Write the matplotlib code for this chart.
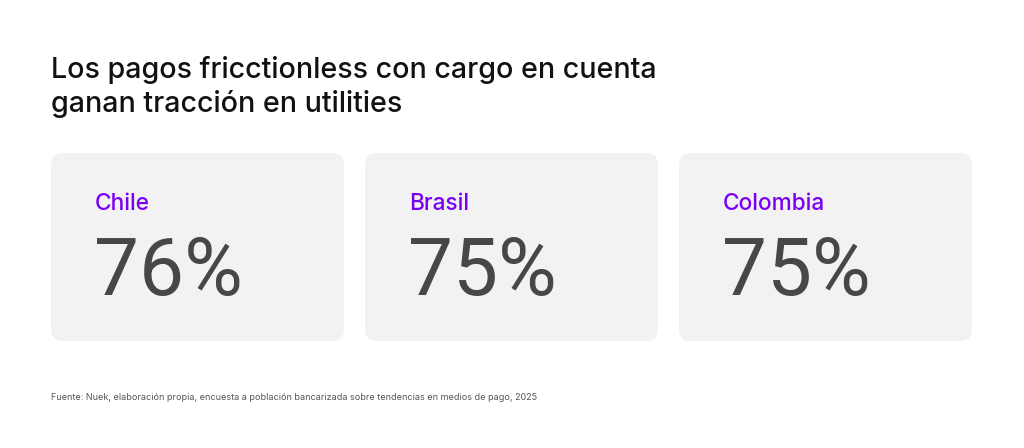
import matplotlib
matplotlib.use("Agg")
import matplotlib.pyplot as plt
from matplotlib.patches import FancyBboxPatch

# ---- data ----
title_lines = ["Los pagos fricctionless con cargo en cuenta", "ganan tracción en utilities"]
countries = ["Chile", "Brasil", "Colombia"]
values = [76, 75, 75]
source = "Fuente: Nuek, elaboración propia, encuesta a población bancarizada sobre tendencias en medios de pago, 2025"

# ---- style ----
W, H = 1024, 448
card_bg = "#f2f2f2"
purple = "#7a00f5"
num_color = "#474747"
title_color = "#111111"

fig = plt.figure(figsize=(W / 100, H / 100), dpi=100)
fig.patch.set_facecolor("white")
ax = fig.add_axes([0, 0, 1, 1])
ax.set_xlim(0, W)
ax.set_ylim(H, 0)
ax.axis("off")

# title
for i, line in enumerate(title_lines):
    ax.text(51, 78 + i * 34, line, fontsize=20.6, color=title_color, family="Inter",
            weight=500, va="baseline", ha="left")

# cards
card_x = [51, 365, 679]
card_w = 293
card_top, card_h = 153, 188
r = 12
for i, (c, v) in enumerate(zip(countries, values)):
    x0 = card_x[i]
    box = FancyBboxPatch((x0 + r, card_top + r), card_w - 2 * r, card_h - 2 * r,
                         boxstyle=f"round,pad={r}", facecolor=card_bg,
                         edgecolor="none", mutation_aspect=1)
    ax.add_patch(box)
    ax.text(x0 + 44, 210, c, fontsize=16.3, color=purple, family="Inter",
            weight=500, va="baseline", ha="left")
    ax.text(x0 + 43, 295, f"{v}%", fontsize=57.7, color=num_color, family="Roboto",
            va="baseline", ha="left")

# source
ax.text(51, 400, source, fontsize=6.5, color="#555555", family="Inter",
        va="baseline", ha="left")

fig.savefig("out.png", dpi=100, facecolor="white")
